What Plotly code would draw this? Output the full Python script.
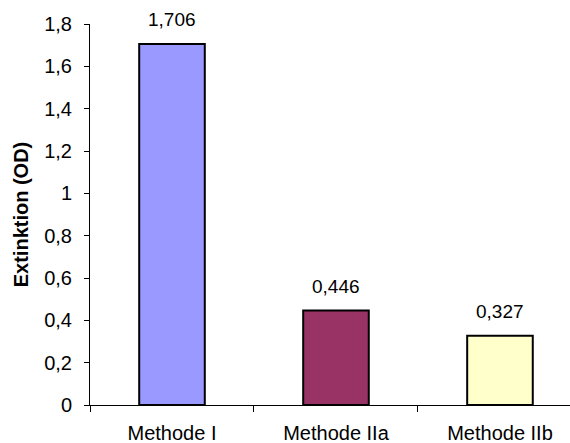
import plotly.graph_objects as go

categories = ["Methode I", "Methode IIa", "Methode IIb"]
values = [1.706, 0.446, 0.327]
bar_colors = ["#9999FF", "#993366", "#FFFFCC"]
y_ticks = [0, 0.2, 0.4, 0.6, 0.8, 1.0, 1.2, 1.4, 1.6, 1.8]
y_tick_labels = ["0", "0,2", "0,4", "0,6", "0,8", "1", "1,2", "1,4", "1,6", "1,8"]

font_family = "Liberation Sans, Arial, sans-serif"

fig = go.Figure(
    go.Bar(
        x=categories,
        y=values,
        marker=dict(color=bar_colors, line=dict(color="black", width=2)),
        width=0.4,
        showlegend=False,
    )
)

# value labels above each bar
for c, v in zip(categories, values):
    fig.add_annotation(
        x=c, y=v, text=f"{v:.3f}".replace(".", ","),
        showarrow=False, yshift=24,
        font=dict(family=font_family, size=19, color="black"),
    )

fig.update_layout(
    width=570, height=443,
    margin=dict(l=90, r=0, t=24, b=38),
    plot_bgcolor="white", paper_bgcolor="white",
    font=dict(family=font_family, size=20, color="black"),
    separators=",.",
)

fig.update_xaxes(
    range=[-0.5, 2.427],
    automargin=False,
    showline=True, linecolor="black", linewidth=1,
    ticks="outside", tickson="boundaries", ticklen=6, tickcolor="black",
    ticklabelstandoff=10,
    tickfont=dict(size=20),
    showgrid=False, zeroline=False,
)
fig.update_yaxes(
    range=[0, 1.8],
    automargin=False,
    tickvals=y_ticks, ticktext=y_tick_labels,
    showline=True, linecolor="black", linewidth=1,
    ticks="outside", ticklen=5, tickcolor="black",
    ticklabelstandoff=8,
    tickfont=dict(size=20),
    showgrid=False, zeroline=False,
    title=dict(text="<b>Extinktion (OD)</b>", font=dict(size=20), standoff=10),
)

fig.write_html("out.html")
